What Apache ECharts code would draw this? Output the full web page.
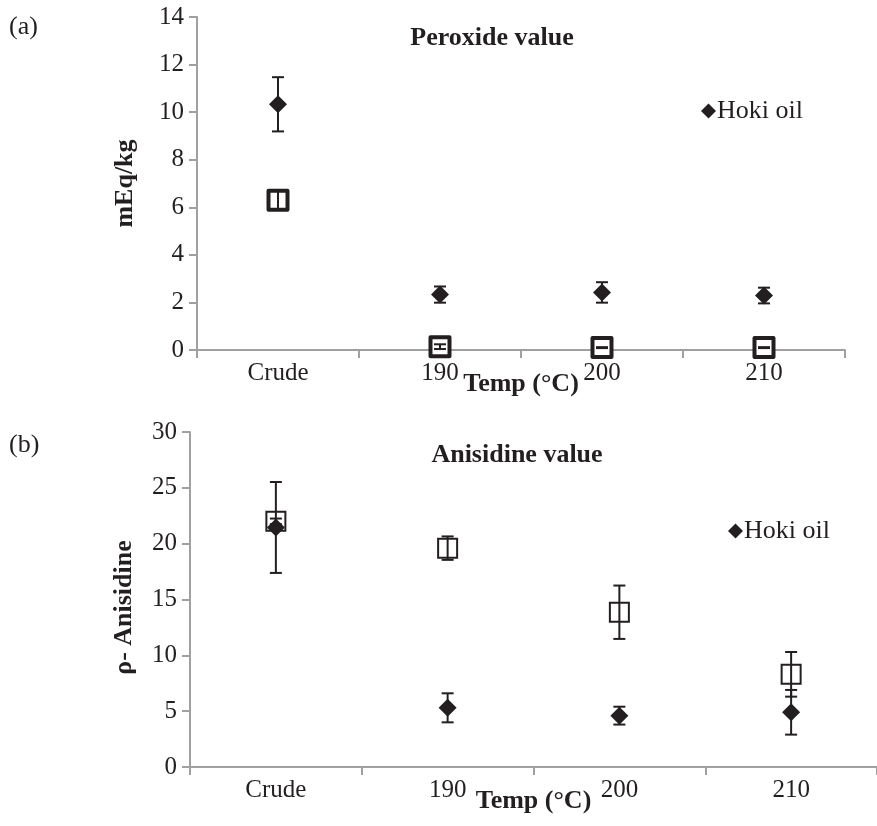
<!DOCTYPE html>
<html>
<head>
<meta charset="utf-8">
<script src="https://cdn.jsdelivr.net/npm/echarts@6/dist/echarts.min.js"></script>
<style>
  html, body { margin: 0; padding: 0; background: #fff; }
  #chart { width: 877px; height: 826px; }
</style>
</head>
<body>
<div id="chart"></div>
<script>
// Oil quality after deodorisation at different temperatures
const categories = ['Crude', '190', '200', '210'];

// (a) Peroxide value, mEq/kg
const peroxideHoki = [10.33, 2.33, 2.42, 2.29];
const peroxideHokiErr = [1.14, 0.34, 0.43, 0.33];
const peroxideOther = [6.3, 0.14, 0.1, 0.1];
const peroxideOtherErr = [0.4, 0.1, 0.02, 0.02];

// (b) p-Anisidine value
const anisidineHoki = [21.45, 5.3, 4.6, 4.9];
const anisidineHokiErr = [4.07, 1.3, 0.8, 2.0];
const anisidineOther = [22.0, 19.6, 13.86, 8.3];
const anisidineOtherErr = [0.25, 1.05, 2.39, 2.0];

const peroxideTicks = { min: 0, max: 14, interval: 2 };
const anisidineTicks = { min: 0, max: 30, interval: 5 };

const FONT = "'Liberation Serif', 'DejaVu Serif', serif";
const INK = '#231f20';
const AXIS = '#a0a0a0';

function errorData(values, errs) {
  return values.map((v, i) => [i, v, errs[i]]);
}

function renderErrorBar(params, api) {
  const idx = api.value(0);
  const mean = api.value(1);
  const err = api.value(2);
  const top = api.coord([idx, mean + err]);
  const bot = api.coord([idx, mean - err]);
  const half = 6;
  const style = { stroke: INK, lineWidth: 2 };
  return {
    type: 'group',
    children: [
      { type: 'line', shape: { x1: top[0], y1: top[1], x2: bot[0], y2: bot[1] }, style },
      { type: 'line', shape: { x1: top[0] - half, y1: top[1], x2: top[0] + half, y2: top[1] }, style },
      { type: 'line', shape: { x1: bot[0] - half, y1: bot[1], x2: bot[0] + half, y2: bot[1] }, style }
    ]
  };
}

function xAxisFor(gridIndex) {
  return {
    type: 'category',
    gridIndex,
    data: categories,
    boundaryGap: true,
    axisLine: { lineStyle: { color: AXIS, width: 2 } },
    axisTick: { show: true, interval: 0, alignWithLabel: false, length: 8, lineStyle: { color: AXIS, width: 2 } },
    axisLabel: { fontFamily: FONT, fontSize: 25, color: INK, margin: 11 },
    name: 'Temp (°C)',
    nameLocation: 'middle',
    nameGap: 21,
    nameMoveOverlap: false,
    nameTextStyle: { fontFamily: FONT, fontSize: 26, fontWeight: 'bold', color: INK, verticalAlign: 'top' }
  };
}

function yAxisFor(gridIndex, ticks, name, gap, shift) {
  return {
    type: 'value',
    gridIndex,
    min: ticks.min,
    max: ticks.max,
    interval: ticks.interval,
    splitLine: { show: false },
    axisLine: { show: true, lineStyle: { color: AXIS, width: 2 } },
    axisTick: { show: true, length: 8, lineStyle: { color: AXIS, width: 2 } },
    axisLabel: { fontFamily: FONT, fontSize: 25, color: INK, margin: 13 },
    name,
    nameLocation: 'middle',
    nameRotate: 90,
    nameGap: gap,
    nameMoveOverlap: false,
    nameTextStyle: { fontFamily: FONT, fontSize: 26, fontWeight: 'bold', color: INK, padding: [0, shift, 0, 0] }
  };
}

function legendAt(left, top) {
  return {
    data: ['Hoki oil'], left, top, icon: 'diamond', itemWidth: 15, itemHeight: 15, itemGap: 2,
    textStyle: { fontFamily: FONT, fontSize: 26, color: INK, padding: [0, 0, 0, -4] }
  };
}

const chart = echarts.init(document.getElementById('chart'));

chart.setOption({
  animation: false,
  backgroundColor: '#fff',
  grid: [
    { left: 197, top: 17, width: 648, height: 333 },
    { left: 190, top: 432, width: 696, height: 335 }
  ],
  xAxis: [xAxisFor(0), xAxisFor(1)],
  yAxis: [
    yAxisFor(0, peroxideTicks, 'mEq/kg', 59, 0),
    yAxisFor(1, anisidineTicks, 'ρ- Anisidine', 53, 16)
  ],
  legend: [legendAt(696, 93), legendAt(723, 513)],
  graphic: [
    { type: 'text', left: 9, top: 14, style: { text: '(a)', font: "26px 'Liberation Serif'", fill: INK } },
    { type: 'text', left: 9, top: 432, style: { text: '(b)', font: "26px 'Liberation Serif'", fill: INK } },
    { type: 'text', x: 492, y: 38, style: { text: 'Peroxide value', font: "bold 26px 'Liberation Serif'", fill: INK, align: 'center', verticalAlign: 'middle' } },
    { type: 'text', x: 517, y: 455, style: { text: 'Anisidine value', font: "bold 26px 'Liberation Serif'", fill: INK, align: 'center', verticalAlign: 'middle' } }
  ],
  series: [
    // (a) peroxide
    {
      name: 'Deodorised', type: 'scatter', xAxisIndex: 0, yAxisIndex: 0, data: peroxideOther,
      symbol: 'rect', symbolSize: 19,
      itemStyle: { color: '#fff', borderColor: INK, borderWidth: 4, borderJoin: 'round', opacity: 1 }, z: 2
    },
    {
      name: 'Hoki oil', type: 'scatter', xAxisIndex: 0, yAxisIndex: 0, data: peroxideHoki,
      symbol: 'diamond', symbolSize: 18, itemStyle: { color: INK, opacity: 1 }, z: 3
    },
    {
      type: 'custom', xAxisIndex: 0, yAxisIndex: 0, renderItem: renderErrorBar,
      data: errorData(peroxideOther, peroxideOtherErr), encode: { x: 0, y: 1 }, z: 4, silent: true
    },
    {
      type: 'custom', xAxisIndex: 0, yAxisIndex: 0, renderItem: renderErrorBar,
      data: errorData(peroxideHoki, peroxideHokiErr), encode: { x: 0, y: 1 }, z: 4, silent: true
    },
    // (b) anisidine
    {
      name: 'Deodorised', type: 'scatter', xAxisIndex: 1, yAxisIndex: 1, data: anisidineOther,
      symbol: 'rect', symbolSize: 19,
      itemStyle: { color: '#fff', borderColor: INK, borderWidth: 2, opacity: 1 }, z: 2
    },
    {
      name: 'Hoki oil', type: 'scatter', xAxisIndex: 1, yAxisIndex: 1, data: anisidineHoki,
      symbol: 'diamond', symbolSize: 18, itemStyle: { color: INK, opacity: 1 }, z: 3
    },
    {
      type: 'custom', xAxisIndex: 1, yAxisIndex: 1, renderItem: renderErrorBar,
      data: errorData(anisidineOther, anisidineOtherErr), encode: { x: 0, y: 1 }, z: 4, silent: true
    },
    {
      type: 'custom', xAxisIndex: 1, yAxisIndex: 1, renderItem: renderErrorBar,
      data: errorData(anisidineHoki, anisidineHokiErr), encode: { x: 0, y: 1 }, z: 4, silent: true
    }
  ]
});
</script>
</body>
</html>
